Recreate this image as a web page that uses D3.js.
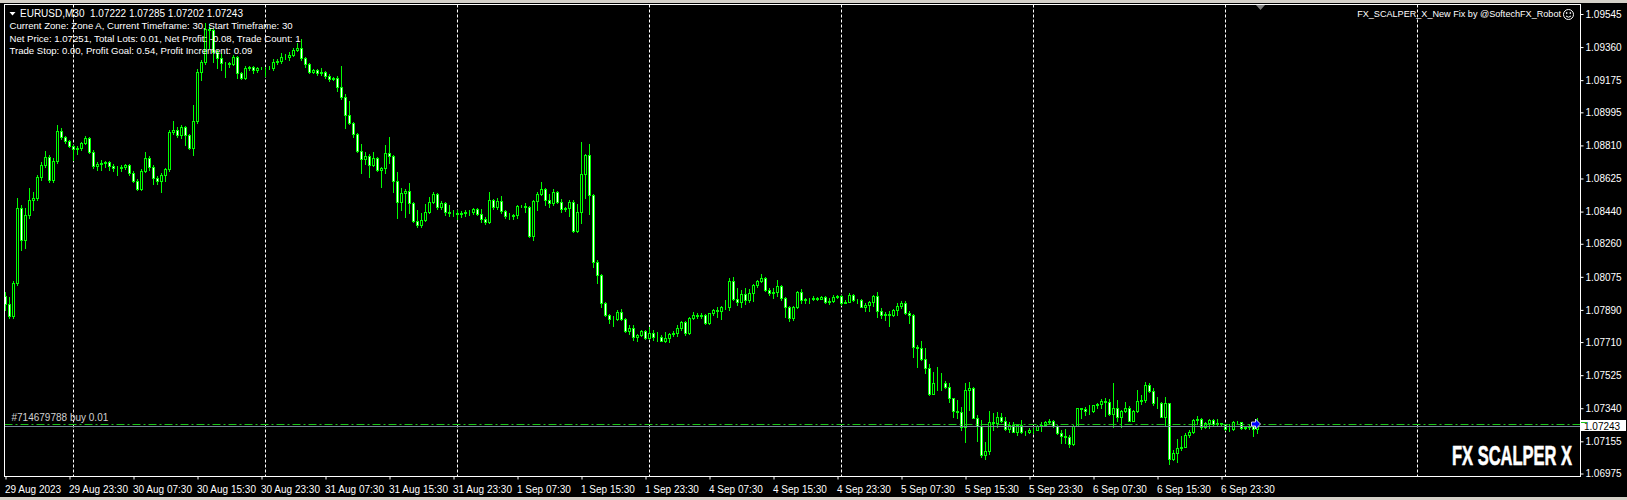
<!DOCTYPE html>
<html>
<head>
<meta charset="utf-8">
<script src="https://cdn.jsdelivr.net/npm/d3@7"></script>
<style>
html, body { margin: 0; padding: 0; background: #000; overflow: hidden; }
svg { display: block; }
text { font-family: "Liberation Sans", Arial, sans-serif; }
</style>
</head>
<body>
<script>
// EURUSD M30 bars (open = previous close)
var firstOpen = 1.07968;

var closes = [1.07923,1.07856,1.08041,1.08460,1.08281,1.08421,1.08505,1.08516,1.08633,1.08701,
  1.08745,1.08617,1.08723,1.08891,1.08857,1.08835,1.08807,1.08790,1.08796,1.08824,
  1.08852,1.08773,1.08695,1.08706,1.08712,1.08717,1.08695,1.08684,1.08684,1.08689,
  1.08701,1.08656,1.08611,1.08566,1.08667,1.08740,1.08689,1.08628,1.08611,1.08645,
  1.08678,1.08885,1.08896,1.08868,1.08913,1.08868,1.08796,1.08947,1.09220,1.09276,
  1.09461,1.09455,1.09332,1.09299,1.09271,1.09271,1.09265,1.09304,1.09215,1.09187,
  1.09243,1.09248,1.09232,1.09243,1.09243,1.09243,1.09243,1.09276,1.09282,1.09304,
  1.09304,1.09315,1.09343,1.09355,1.09299,1.09265,1.09220,1.09232,1.09215,1.09220,
  1.09198,1.09181,1.09187,1.09136,1.09081,1.08980,1.08935,1.08874,1.08779,1.08734,
  1.08751,1.08701,1.08740,1.08673,1.08684,1.08768,1.08751,1.08611,1.08494,1.08544,
  1.08555,1.08488,1.08388,1.08365,1.08393,1.08438,1.08494,1.08538,1.08466,1.08488,
  1.08438,1.08432,1.08432,1.08427,1.08432,1.08438,1.08438,1.08455,1.08427,1.08399,
  1.08382,1.08505,1.08466,1.08499,1.08444,1.08416,1.08416,1.08421,1.08471,1.08471,
  1.08466,1.08304,1.08499,1.08538,1.08566,1.08505,1.08488,1.08549,1.08494,1.08455,
  1.08460,1.08494,1.08332,1.08438,1.08650,1.08756,1.08533,1.08158,1.08086,1.07928,
  1.07861,1.07839,1.07839,1.07878,1.07839,1.07772,1.07788,1.07738,1.07749,1.07772,
  1.07733,1.07760,1.07738,1.07738,1.07716,1.07733,1.07755,1.07760,1.07788,1.07822,
  1.07760,1.07844,1.07861,1.07856,1.07861,1.07816,1.07872,1.07889,1.07884,1.07906,
  1.07906,1.08052,1.07951,1.07934,1.07979,1.07945,1.07985,1.08030,1.08052,1.08069,
  1.08002,1.07985,1.07990,1.08024,1.07957,1.07906,1.07844,1.07906,1.07990,1.07945,
  1.07951,1.07951,1.07957,1.07951,1.07963,1.07934,1.07939,1.07963,1.07968,1.07928,
  1.07934,1.07974,1.07945,1.07945,1.07906,1.07917,1.07934,1.07968,1.07884,1.07861,
  1.07867,1.07861,1.07889,1.07911,1.07928,1.07872,1.07861,1.07682,1.07677,1.07615,
  1.07565,1.07419,1.07481,1.07481,1.07481,1.07458,1.07397,1.07325,1.07319,1.07235,
  1.07442,1.07453,1.07285,1.07241,1.07078,1.07101,1.07263,1.07257,1.07291,1.07269,
  1.07224,1.07246,1.07207,1.07246,1.07207,1.07207,1.07218,1.07218,1.07241,1.07246,
  1.07263,1.07269,1.07241,1.07201,1.07185,1.07179,1.07140,1.07241,1.07341,1.07336,
  1.07325,1.07325,1.07358,1.07364,1.07380,1.07375,1.07308,1.07341,1.07291,1.07325,
  1.07341,1.07269,1.07325,1.07380,1.07386,1.07470,1.07436,1.07369,1.07369,1.07291,
  1.07369,1.07056,1.07090,1.07118,1.07123,1.07190,1.07207,1.07274,1.07280,1.07235,
  1.07257,1.07274,1.07252,1.07257,1.07252,1.07224,1.07224,1.07263,1.07263,1.07229,
  1.07235,1.07241,1.07222,1.07243];

var highs = [1.07990,1.07963,1.08052,1.08516,1.08477,1.08460,1.08572,1.08549,1.08645,1.08717,
  1.08779,1.08756,1.08740,1.08924,1.08907,1.08863,1.08840,1.08812,1.08807,1.08829,
  1.08863,1.08857,1.08784,1.08717,1.08728,1.08723,1.08723,1.08706,1.08695,1.08701,
  1.08706,1.08706,1.08667,1.08622,1.08678,1.08773,1.08751,1.08701,1.08639,1.08656,
  1.08684,1.08896,1.08947,1.08913,1.08924,1.08919,1.08874,1.09036,1.09237,1.09287,
  1.09494,1.09489,1.09466,1.09343,1.09327,1.09276,1.09276,1.09315,1.09310,1.09220,
  1.09254,1.09254,1.09254,1.09248,1.09248,1.09248,1.09254,1.09293,1.09293,1.09327,
  1.09321,1.09332,1.09355,1.09383,1.09405,1.09304,1.09271,1.09237,1.09237,1.09243,
  1.09226,1.09209,1.09192,1.09198,1.09254,1.09097,1.09058,1.08941,1.08879,1.08818,
  1.08773,1.08762,1.08773,1.08745,1.08689,1.08812,1.08857,1.08756,1.08661,1.08572,
  1.08566,1.08600,1.08494,1.08449,1.08432,1.08483,1.08522,1.08549,1.08544,1.08499,
  1.08494,1.08477,1.08449,1.08449,1.08444,1.08449,1.08449,1.08460,1.08460,1.08455,
  1.08410,1.08549,1.08510,1.08516,1.08527,1.08449,1.08432,1.08427,1.08477,1.08477,
  1.08488,1.08471,1.08505,1.08549,1.08605,1.08572,1.08538,1.08566,1.08555,1.08510,
  1.08466,1.08505,1.08505,1.08483,1.08829,1.08762,1.08818,1.08538,1.08169,1.08091,
  1.07934,1.07867,1.07856,1.07889,1.07895,1.07844,1.07805,1.07805,1.07755,1.07777,
  1.07777,1.07794,1.07777,1.07766,1.07749,1.07766,1.07760,1.07772,1.07805,1.07828,
  1.07828,1.07850,1.07878,1.07872,1.07872,1.07867,1.07872,1.07895,1.07906,1.07911,
  1.07945,1.08069,1.08074,1.08013,1.08002,1.08013,1.08007,1.08035,1.08058,1.08091,
  1.08074,1.08013,1.08013,1.08058,1.08030,1.07963,1.07911,1.07911,1.07996,1.08007,
  1.07957,1.07957,1.07968,1.07963,1.07968,1.07968,1.07957,1.07974,1.07974,1.07974,
  1.07945,1.07985,1.07979,1.07951,1.07951,1.07928,1.07939,1.07974,1.07990,1.07900,
  1.07878,1.07884,1.07895,1.07928,1.07939,1.07939,1.07884,1.07867,1.07693,1.07716,
  1.07677,1.07587,1.07542,1.07570,1.07537,1.07492,1.07481,1.07397,1.07386,1.07347,
  1.07481,1.07486,1.07458,1.07302,1.07274,1.07151,1.07325,1.07313,1.07319,1.07313,
  1.07291,1.07263,1.07263,1.07252,1.07274,1.07213,1.07229,1.07229,1.07246,1.07263,
  1.07269,1.07280,1.07274,1.07246,1.07218,1.07224,1.07190,1.07246,1.07341,1.07341,
  1.07347,1.07358,1.07358,1.07369,1.07391,1.07397,1.07391,1.07481,1.07386,1.07330,
  1.07375,1.07352,1.07330,1.07442,1.07414,1.07486,1.07481,1.07453,1.07402,1.07375,
  1.07402,1.07369,1.07106,1.07168,1.07185,1.07201,1.07218,1.07280,1.07296,1.07285,
  1.07263,1.07280,1.07280,1.07280,1.07257,1.07252,1.07252,1.07269,1.07269,1.07257,
  1.07235,1.07252,1.07252,1.07285];

var lows = [1.07889,1.07844,1.07844,1.08030,1.08225,1.08237,1.08404,1.08449,1.08505,1.08617,
  1.08689,1.08605,1.08605,1.08712,1.08846,1.08824,1.08801,1.08728,1.08762,1.08784,
  1.08818,1.08768,1.08684,1.08673,1.08673,1.08689,1.08673,1.08667,1.08645,1.08667,
  1.08678,1.08645,1.08605,1.08561,1.08561,1.08661,1.08673,1.08594,1.08594,1.08549,
  1.08611,1.08667,1.08874,1.08857,1.08852,1.08812,1.08790,1.08756,1.08935,1.09176,
  1.09265,1.09355,1.09276,1.09243,1.09232,1.09192,1.09248,1.09260,1.09187,1.09181,
  1.09181,1.09232,1.09215,1.09220,1.09237,1.09198,1.09237,1.09232,1.09265,1.09271,
  1.09293,1.09287,1.09310,1.09338,1.09287,1.09248,1.09215,1.09215,1.09204,1.09204,
  1.09187,1.09170,1.09176,1.09114,1.09069,1.08907,1.08930,1.08857,1.08773,1.08656,
  1.08706,1.08633,1.08695,1.08667,1.08577,1.08656,1.08712,1.08549,1.08404,1.08449,
  1.08410,1.08432,1.08382,1.08354,1.08354,1.08388,1.08432,1.08488,1.08455,1.08455,
  1.08421,1.08416,1.08416,1.08399,1.08410,1.08416,1.08421,1.08427,1.08421,1.08382,
  1.08371,1.08376,1.08455,1.08455,1.08432,1.08404,1.08399,1.08399,1.08404,1.08466,
  1.08438,1.08298,1.08281,1.08449,1.08533,1.08477,1.08466,1.08477,1.08488,1.08438,
  1.08444,1.08416,1.08326,1.08326,1.08376,1.08516,1.08427,1.08130,1.08041,1.07906,
  1.07856,1.07816,1.07800,1.07833,1.07833,1.07766,1.07755,1.07721,1.07716,1.07744,
  1.07727,1.07727,1.07721,1.07716,1.07716,1.07710,1.07710,1.07744,1.07744,1.07777,
  1.07749,1.07755,1.07839,1.07844,1.07844,1.07811,1.07811,1.07861,1.07850,1.07839,
  1.07895,1.07889,1.07945,1.07917,1.07906,1.07923,1.07934,1.07939,1.08018,1.08046,
  1.07996,1.07974,1.07957,1.07968,1.07945,1.07850,1.07828,1.07833,1.07900,1.07928,
  1.07928,1.07928,1.07945,1.07945,1.07951,1.07928,1.07923,1.07934,1.07957,1.07917,
  1.07928,1.07934,1.07939,1.07928,1.07906,1.07884,1.07884,1.07911,1.07850,1.07844,
  1.07833,1.07800,1.07856,1.07861,1.07900,1.07867,1.07816,1.07626,1.07570,1.07609,
  1.07537,1.07414,1.07419,1.07442,1.07442,1.07453,1.07375,1.07291,1.07285,1.07218,
  1.07151,1.07330,1.07285,1.07157,1.07067,1.07056,1.07084,1.07218,1.07235,1.07263,
  1.07218,1.07207,1.07207,1.07190,1.07201,1.07190,1.07201,1.07201,1.07218,1.07213,
  1.07241,1.07257,1.07235,1.07196,1.07146,1.07146,1.07123,1.07134,1.07241,1.07285,
  1.07302,1.07308,1.07319,1.07341,1.07341,1.07296,1.07302,1.07235,1.07269,1.07235,
  1.07319,1.07269,1.07269,1.07319,1.07364,1.07375,1.07430,1.07358,1.07341,1.07291,
  1.07241,1.07028,1.07050,1.07039,1.07106,1.07123,1.07179,1.07201,1.07252,1.07224,
  1.07229,1.07229,1.07246,1.07241,1.07241,1.07218,1.07213,1.07218,1.07252,1.07224,
  1.07224,1.07224,1.07185,1.07202];

// price scale labels (right) and time labels (bottom, one every 16 bars)
var priceTicks = [1.09545, 1.09360, 1.09175, 1.08995, 1.08810, 1.08625, 1.08440, 1.08260,
                  1.08075, 1.07890, 1.07710, 1.07525, 1.07340, 1.07155, 1.06975];
var timeLabels = ["29 Aug 2023", "29 Aug 23:30", "30 Aug 07:30", "30 Aug 15:30", "30 Aug 23:30",
                  "31 Aug 07:30", "31 Aug 15:30", "31 Aug 23:30", "1 Sep 07:30", "1 Sep 15:30",
                  "1 Sep 23:30", "4 Sep 07:30", "4 Sep 15:30", "4 Sep 23:30", "5 Sep 07:30",
                  "5 Sep 15:30", "5 Sep 23:30", "6 Sep 07:30", "6 Sep 15:30", "6 Sep 23:30"];

var bidPrice = 1.07243,
    orderPrice = 1.07251,
    orderBar = 312;

var infoLines = ["Current Zone: Zone A, Current Timeframe: 30, Start Timeframe: 30",
                 "Net Price: 1.07251, Total Lots: 0.01, Net Profit: -0.08, Trade Count: 1",
                 "Trade Stop: 0.00, Profit Goal: 0.54, Profit Increment: 0.09"];

// set up canvas
var width = 1627, height = 500;
var frame = {left: 4.5, top: 4.5, right: 1580.5, bottom: 476.5};

var x = d3.scaleLinear().domain([0, 1]).range([5.5, 9.5]),   // 4px per bar
    y = d3.scaleLinear().domain([1.06975, 1.09545]).range([473.5, 14]);

var lime = "#00ff00";

var svg = d3.select("body").append("svg")
    .attr("width", width)
    .attr("height", height);

svg.append("rect").attr("width", width).attr("height", height).attr("fill", "#000");
svg.append("rect").attr("width", width).attr("height", 3).attr("fill", "#d4d0c8");
svg.append("rect").attr("y", 497).attr("width", width).attr("height", 3).attr("fill", "#d4d0c8");

svg.append("clipPath").attr("id", "plotClip")
  .append("rect")
    .attr("x", frame.left).attr("y", frame.top)
    .attr("width", frame.right - frame.left).attr("height", frame.bottom - frame.top);

var plot = svg.append("g").attr("clip-path", "url(#plotClip)");

// day separators (dotted grid), every 48 bars starting at the 30 Aug 00:00 bar
plot.selectAll(".grid")
    .data(d3.range(17, 400, 48))
    .enter().append("line")
    .attr("class", "grid")
    .attr("x1", function(d) { return x(d); })
    .attr("x2", function(d) { return x(d); })
    .attr("y1", frame.top)
    .attr("y2", frame.bottom)
    .attr("stroke", "#fff")
    .attr("stroke-dasharray", "3,2");

var bars = closes.map(function(c, i) {
    var o = i ? closes[i - 1] : firstOpen;
    return {i: i, o: o, c: c,
            h: Math.max(highs[i], o, c),
            l: Math.min(lows[i], o, c)};
});

function py(p) { return Math.round(y(p)); }

plot.selectAll(".wick")
    .data(bars)
    .enter().append("line")
    .attr("class", "wick")
    .attr("x1", function(d) { return x(d.i); })
    .attr("x2", function(d) { return x(d.i); })
    .attr("y1", function(d) { return py(d.h); })
    .attr("y2", function(d) { return py(d.l) + 1; })
    .attr("stroke", lime);

plot.selectAll(".body")
    .data(bars)
    .enter().append("rect")
    .attr("class", "body")
    .attr("x", function(d) { return x(d.i) - 1; })
    .attr("y", function(d) { return py(Math.max(d.o, d.c)) + 0.5; })
    .attr("width", 2)
    .attr("height", function(d) { return py(Math.min(d.o, d.c)) - py(Math.max(d.o, d.c)); })
    .attr("fill", function(d) { return d.c < d.o ? "#fff" : "#000"; })
    .attr("stroke", lime);

// open order line and bid line
plot.append("line")
    .attr("x1", frame.left).attr("x2", frame.right)
    .attr("y1", py(orderPrice) + 0.5).attr("y2", py(orderPrice) + 0.5)
    .attr("stroke", "#19c419")
    .attr("stroke-dasharray", "8,3,2,3");

plot.append("line")
    .attr("x1", frame.left).attr("x2", frame.right)
    .attr("y1", py(bidPrice) + 0.5).attr("y2", py(bidPrice) + 0.5)
    .attr("stroke", "#778899");

plot.append("text")
    .attr("x", 11.5)
    .attr("y", py(orderPrice) - 3)
    .attr("fill", "#d0d0d0")
    .style("font-size", "10px")
    .text("#714679788 buy 0.01");

// buy arrow at the order bar
var ax = x(orderBar) - 2, ay = py(orderPrice);
plot.append("path")
    .attr("d", "M" + ax + "," + (ay - 2) + "h4v-3l5,5l-5,5v-3h-4z")
    .attr("fill", "#0000ff")
    .attr("stroke", "#fff")
    .attr("stroke-width", 0.8);

// frame
svg.append("rect")
    .attr("x", frame.left).attr("y", frame.top)
    .attr("width", frame.right - frame.left).attr("height", frame.bottom - frame.top)
    .attr("fill", "none")
    .attr("stroke", "#fff");

// chart shift marker
svg.append("path")
    .attr("d", "M1256,5h9l-4.5,5z")
    .attr("fill", "#808080");

// price axis
var yAxis = svg.append("g")
    .attr("transform", "translate(" + frame.right + ",0)")
    .call(d3.axisRight(y).tickValues(priceTicks).tickSize(3).tickPadding(2)
          .tickFormat(d3.format(".5f")));
yAxis.select(".domain").remove();
yAxis.selectAll("line").attr("stroke", "#fff");
yAxis.selectAll("text")
    .attr("fill", "#fff")
    .style("font-size", "10px")
    .style("font-family", "Liberation Sans, Arial, sans-serif");

// bid label and order marker on the price axis
svg.append("rect")
    .attr("x", 1581).attr("y", py(bidPrice) - 6)
    .attr("width", 45).attr("height", 11)
    .attr("fill", "#fff");
svg.append("text")
    .attr("x", 1584).attr("y", py(bidPrice) + 3.5)
    .attr("fill", "#000")
    .style("font-size", "10px")
    .text(d3.format(".5f")(bidPrice));
svg.append("line")
    .attr("x1", 1581).attr("x2", 1587)
    .attr("y1", py(orderPrice) - 1.5).attr("y2", py(orderPrice) - 1.5)
    .attr("stroke", "#19c419");

// time axis
var xAxis = svg.append("g")
    .attr("transform", "translate(0," + frame.bottom + ")")
    .call(d3.axisBottom(x).tickValues(timeLabels.map(function(d, i) { return i * 16; }))
          .tickSize(3)
          .tickFormat(function(d, i) { return timeLabels[i]; }));
xAxis.select(".domain").remove();
xAxis.selectAll("line").attr("stroke", "#fff");
xAxis.selectAll("text")
    .attr("fill", "#fff")
    .attr("text-anchor", "start")
    .attr("x", -1)
    .attr("y", 16)
    .attr("dy", null)
    .style("font-size", "10px")
    .style("font-family", "Liberation Sans, Arial, sans-serif");

// header
svg.append("path").attr("d", "M9.5,12h6l-3,3.5z").attr("fill", "#fff");
svg.append("text")
    .attr("x", 20).attr("y", 17)
    .attr("fill", "#fff")
    .style("font-size", "10px")
    .style("white-space", "pre")
    .text("EURUSD,M30  " + [1.07222, 1.07285, 1.07202, 1.07243].map(d3.format(".5f")).join(" "));

svg.selectAll(".info")
    .data(infoLines)
    .enter().append("text")
    .attr("class", "info")
    .attr("x", 9.5)
    .attr("y", function(d, i) { return 29.3 + i * 12.4; })
    .attr("fill", "#fff")
    .style("font-size", "9.6px")
    .text(function(d) { return d; });

svg.append("text")
    .attr("x", 1561).attr("y", 17)
    .attr("text-anchor", "end")
    .attr("fill", "#fff")
    .style("font-size", "9.1px")
    .text("FX_SCALPER_X_New Fix by @SoftechFX_Robot");

var smile = svg.append("g").attr("transform", "translate(1568.5,14.5)")
    .attr("fill", "none").attr("stroke", "#fff");
smile.append("circle").attr("r", 5);
smile.append("path").attr("d", "M-2.5,1.5Q0,4 2.5,1.5");
smile.append("circle").attr("cx", -1.8).attr("cy", -1.5).attr("r", 0.5).attr("fill", "#fff");
smile.append("circle").attr("cx", 1.8).attr("cy", -1.5).attr("r", 0.5).attr("fill", "#fff");

// logo, squeezed horizontally to a condensed look
var logo = svg.append("g");
var logoText = logo.append("text")
    .attr("fill", "#fff")
    .attr("stroke", "#fff")
    .attr("stroke-width", 0.6)
    .style("font-size", "28px")
    .style("font-weight", "bold")
    .text("FX SCALPER X");
var logoLen = logoText.node().getComputedTextLength();
logo.attr("transform", "translate(1452,465) scale(" + (120 / logoLen) + ",1)");
</script>
</body>
</html>
